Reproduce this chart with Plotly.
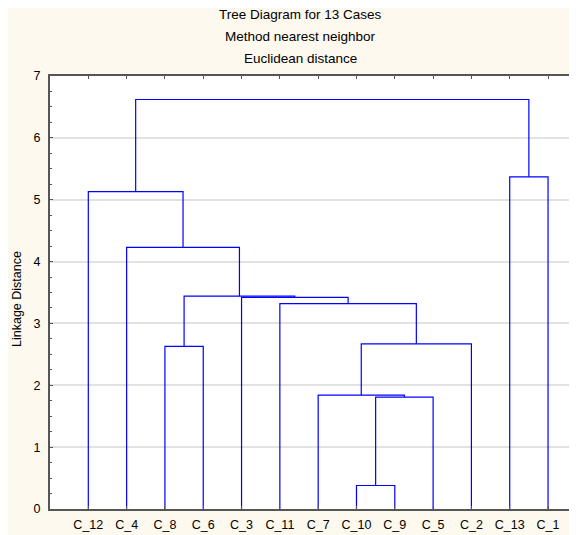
import plotly.graph_objects as go

# ---- data ----
leaf_order = ["C_12", "C_4", "C_8", "C_6", "C_3", "C_11", "C_7",
              "C_10", "C_9", "C_5", "C_2", "C_13", "C_1"]
merge_left = ["C_10", "M1", "C_7", "M3", "C_11", "C_3", "C_8", "M7", "C_4", "C_12", "C_13", "M10"]
merge_right = ["C_9", "C_5", "M2", "C_2", "M4", "M5", "C_6", "M6", "M8", "M9", "C_1", "M11"]
merge_height = [0.38, 1.81, 1.84, 2.67, 3.32, 3.42, 2.63, 3.44, 4.23, 5.13, 5.37, 6.62]
y_ticks = [0, 1, 2, 3, 4, 5, 6, 7]
titles = ["Tree Diagram for 13 Cases", "Method nearest neighbor", "Euclidean distance"]

# ---- build dendrogram segments ----
pos = {name: i + 1 for i, name in enumerate(leaf_order)}
hgt = {name: 0.0 for name in leaf_order}
xs, ys = [], []
for k, (a, b, h) in enumerate(zip(merge_left, merge_right, merge_height)):
    xa, xb = pos[a], pos[b]
    xs += [xa, xa, xb, xb, None]
    ys += [hgt[a], h, h, hgt[b], None]
    name = "M%d" % (k + 1)
    pos[name] = (xa + xb) / 2
    hgt[name] = h

fig = go.Figure()
fig.add_trace(go.Scatter(x=xs, y=ys, mode="lines",
                         line=dict(color="#0000FF", width=1.2),
                         hoverinfo="skip", showlegend=False))

# page body has an 8px margin; compensate so plot lands where the reference has it
OFF = 8
SCR_W, SCR_H = 577, 535
plot_l, plot_r, plot_t, plot_b = 50, 577, 75.7, 509.3
W, H = SCR_W - OFF, SCR_H - OFF
ml = plot_l - OFF
mr = 0
mt = plot_t - OFF
mb = H - (plot_b - OFF)
pw, ph = W - ml - mr, H - mt - mb
unit_x = 38.31
xmax = pw / unit_x

font = "Liberation Sans, Arial, sans-serif"

fig.update_layout(
    width=W, height=H,
    margin=dict(l=ml, r=mr, t=mt, b=mb, pad=0, autoexpand=False),
    paper_bgcolor="#FDF9EF",
    plot_bgcolor="#FFFFFF",
    font=dict(family=font, size=12, color="#000000"),
    showlegend=False,
)
fig.update_xaxes(
    range=[0, xmax],
    tickvals=list(range(1, len(leaf_order) + 1)),
    ticktext=leaf_order,
    showgrid=False, zeroline=False,
    showline=True, linecolor="#555555", linewidth=2,
    mirror="ticks", ticks="inside", ticklen=3, tickcolor="#555555",
    tickfont=dict(family=font, size=12.5, color="#000000"),
    ticklabelstandoff=3,
    automargin=False,
)
fig.update_yaxes(
    range=[0, 7],
    tickvals=y_ticks,
    showgrid=True, gridcolor="#E2E2E2", gridwidth=1.5,
    zeroline=False,
    showline=True, linecolor="#555555", linewidth=2,
    ticks="inside", ticklen=3, tickcolor="#555555",
    minor=dict(dtick=0.25, ticks="inside", ticklen=2, tickcolor="#555555", showgrid=False),
    tickfont=dict(family=font, size=12.5, color="#000000"),
    ticklabelstandoff=5,
    automargin=False,
)

def py(pix):
    return (plot_b - pix) / ph

def px(pix):
    return (pix - plot_l) / pw

for t, yp in zip(titles, [14, 36, 58]):
    fig.add_annotation(text=t, xref="paper", yref="paper", x=px(300), y=py(yp),
                       xanchor="center", yanchor="middle", showarrow=False,
                       font=dict(family=font, size=13.5, color="#000000"))
fig.add_annotation(text="Linkage Distance", xref="paper", yref="paper",
                   x=px(17), y=py(299), textangle=-90,
                   xanchor="center", yanchor="middle", showarrow=False,
                   font=dict(family=font, size=12.5, color="#000000"))

fig.write_html("out.html")
